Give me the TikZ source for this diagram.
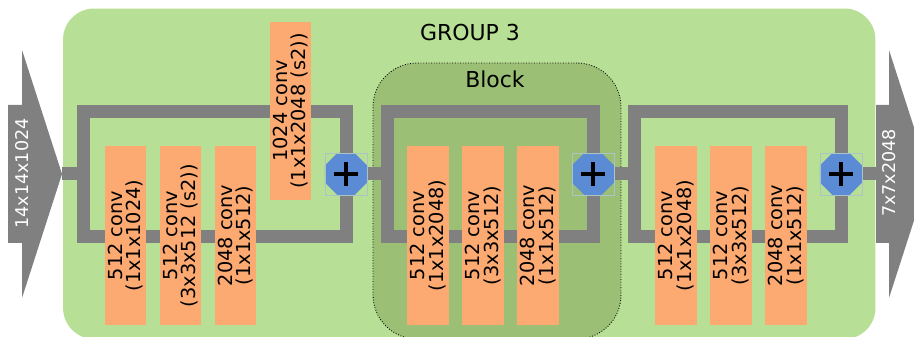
\documentclass[tikz,border=0pt]{standalone}
\usepackage{fontspec}
\setmainfont{DejaVu Sans}
\usepackage{xcolor}
\usepackage{tikz}
\usetikzlibrary{shapes.geometric}
\definecolor{verdeclaro}{RGB}{184,223,150}
\definecolor{verdeosc}{RGB}{155,191,116}
\definecolor{naranja}{RGB}{253,170,114}
\definecolor{azul}{RGB}{91,139,212}
\definecolor{gris}{RGB}{128,128,128}
\definecolor{marco}{RGB}{170,196,200}

\begin{document}
\begin{tikzpicture}[x=0.02cm,y=-0.02cm,
grupo/.style={fill=verdeclaro,rounded corners=0.62cm,minimum width=16.25cm,minimum height=6.61cm,inner sep=0},
bloque/.style={fill=verdeosc,draw=black,densely dotted,line width=0.5pt,rounded corners=0.88cm,minimum width=4.96cm,minimum height=5.52cm,inner sep=0},
conv/.style={fill=naranja,rotate=90,minimum width=3.58cm,minimum height=0.84cm,inner sep=0,align=center,font=\fontsize{11}{10.5}\selectfont},
suma/.style={regular polygon,regular polygon sides=8,fill=azul,minimum size=0.91cm,inner sep=0,outer sep=0,
  path picture={\draw[line width=0.08cm] ([xshift=-0.24cm]path picture bounding box.center) -- ([xshift=0.24cm]path picture bounding box.center)
    ([yshift=-0.24cm]path picture bounding box.center) -- ([yshift=0.24cm]path picture bounding box.center);}},
tubo/.style={draw=gris,line width=0.26cm},
dim/.style={rotate=90,text=white,inner sep=0,font=\fontsize{10}{12}\selectfont},
titulo/.style={inner sep=0,font=\fontsize{12.5}{15}\selectfont}
]
\clip (0,0) rectangle (914,337);

\node[grupo] (g3) at (469.25,173.75) {};
\node[titulo] (tg3) at (470,33) {GROUP 3};
\node[bloque] (blq) at (497,201) {};
\node[titulo] (tblq) at (495,79) {Block};

% flechas de entrada y salida
\fill[gris] (8,105) -- (22,105) -- (22,50) -- (62,174) -- (22,298) -- (22,243) -- (8,243) -- cycle;
\fill[gris] (876,105) -- (889,105) -- (889,50) -- (929,174) -- (889,298) -- (889,243) -- (876,243) -- cycle;
\node[dim] (din) at (22,173.5) {14x14x1024};
\node[dim] (dout) at (889,173) {7x7x2048};

\coordinate (ent) at (62,174);
\coordinate (sal) at (876,174);
\coordinate (s1) at (83.5,174);
\coordinate (s2) at (387,174);
\coordinate (s3) at (634,174);
\node[suma] (p1) at (346,174) {};
\node[suma] (p2) at (593,174) {};
\node[suma] (p3) at (841,174) {};

\draw[tubo] (ent) -- (s1);
\foreach \a/\b in {s1/p1,s2/p2,s3/p3} {
  \draw[tubo] (\a) -- ++(0,-62.5) -| (\b);
  \draw[tubo] (\a) -- ++(0,62.5) -| (\b);
}
\draw[tubo] (p1) -- (s2);
\draw[tubo] (p2) -- (s3);
\draw[tubo] (p3) -- (sal);

\foreach \x/\t [count=\i] in {125.5/{512 conv\\(1x1x1024)},180.5/{512 conv\\(3x3x512 (s2))},235.5/{2048 conv\\(1x1x512)},
  428/{512 conv\\(1x1x2048)},483/{512 conv\\(3x3x512)},538/{2048 conv\\(1x1x512)},
  676/{512 conv\\(1x1x2048)},731/{512 conv\\(3x3x512)},786/{2048 conv\\(1x1x512)}}
  \node[conv] (c\i) at (\x,235.5) {\t};
\node[conv,minimum width=3.56cm] (pr) at (290.5,111) {1024 conv\\(1x1x2048 (s2))};

\foreach \p in {p1,p2,p3} \draw[marco,line width=0.4pt] (\p.west |- \p.north) rectangle (\p.east |- \p.south);
\end{tikzpicture}
\end{document}
